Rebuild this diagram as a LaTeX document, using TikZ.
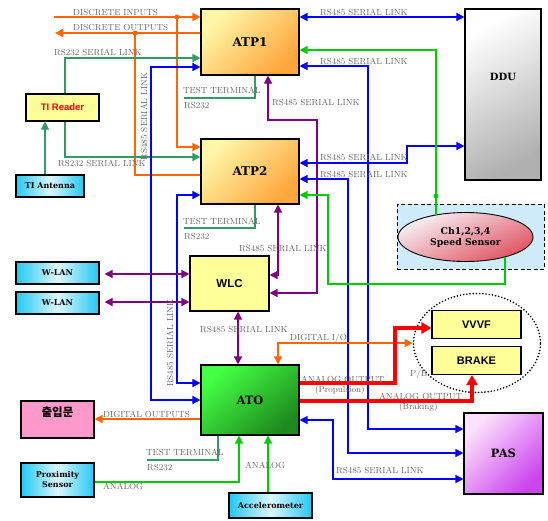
\documentclass[tikz,border=0pt]{standalone}
\usepackage{fontspec}
\newfontfamily\arialfont{Liberation Sans}
\newfontfamily\heavyfont{DejaVu Serif}
\newfontfamily\krfont{Noto Sans CJK KR}
\usetikzlibrary{arrows.meta,shapes.geometric,calc}
\definecolor{orng}{HTML}{FF6600}
\definecolor{blu}{HTML}{0000FF}
\definecolor{purp}{HTML}{800080}
\definecolor{grn}{HTML}{00CC00}
\definecolor{sgrn}{HTML}{339966}
\definecolor{rd}{HTML}{FF0000}
\definecolor{lblgray}{HTML}{666666}
\definecolor{atpA}{HTML}{FFF6A8}
\definecolor{atpB}{HTML}{FFA63C}
\definecolor{ddA}{HTML}{FFFFFF}
\definecolor{ddB}{HTML}{B0B0B0}
\definecolor{atoA}{HTML}{44FF44}
\definecolor{atoM}{HTML}{30DD30}
\definecolor{atoB}{HTML}{1E8A1E}
\definecolor{pasA}{HTML}{FCE2FC}
\definecolor{pasB}{HTML}{CC44EE}
\definecolor{cyA}{HTML}{22C8F2}
\definecolor{cyB}{HTML}{DDF7FF}
\definecolor{ssA}{HTML}{F8F2F6}
\definecolor{ssB}{HTML}{E05262}
\definecolor{sky}{HTML}{D0EBFA}
\definecolor{yel}{HTML}{FFFF99}
\definecolor{pnk}{HTML}{FF99CC}
\begin{document}
\begin{tikzpicture}[x=1pt,y=-1pt,
  >={Triangle[length=8pt,width=8pt]},
  box/.style={draw=black,line width=1.1pt,inner sep=0pt,rectangle},
  atp/.style={box,minimum width=98pt,top color=atpA,bottom color=atpB,shading angle=45,font=\heavyfont\bfseries\fontsize{12}{13}\selectfont},
  cyanbox/.style={box,left color=cyA,right color=cyA,middle color=cyB,font=\heavyfont\bfseries\fontsize{8}{10}\selectfont,align=center},
  yelbox/.style={box,fill=yel,font=\arialfont\bfseries\fontsize{11}{12}\selectfont},
  lbl/.style={font=\fontsize{8.8}{10}\selectfont,text=lblgray,inner sep=0pt,anchor=west},
  ln/.style={line width=1.3pt},
  redln/.style={line width=3.2pt,rd,-{Triangle[length=10pt,width=11pt]}},
  dot/.style={circle,inner sep=0pt,minimum size=5pt}
]
\useasboundingbox (0,0) rectangle (548,520);

% ---------- nodes ----------
\node[atp,minimum height=66pt] (ATP1) at (250,42) {ATP1};
\node[atp,minimum height=65pt] (ATP2) at (250,171.5) {ATP2};
\node[box,minimum width=76pt,minimum height=171pt,top color=ddA,bottom color=ddB,shading angle=30] (DDU) at (503,94.5) {};
\node[font=\heavyfont\bfseries\fontsize{10}{12}\selectfont] (DDUt) at (503,77) {DDU};
\node[box,fill=yel,minimum width=73pt,minimum height=27pt,text=rd,font=\arialfont\bfseries\fontsize{9.5}{11}\selectfont] (TIR) at (62.5,107.5) {TI Reader};
\node[cyanbox,minimum width=68pt,minimum height=22pt] (TIA) at (50,186) {TI Antenna};
\node[draw,line width=1pt,dash pattern=on 4pt off 2.5pt,fill=sky,minimum width=147pt,minimum height=65pt,inner sep=0pt] (SSB) at (470.5,236.5) {};
\node[ellipse,draw=black,line width=0.9pt,minimum width=135pt,minimum height=49pt,inner sep=0pt,top color=ssA,bottom color=ssB,shading angle=25,align=center,font=\heavyfont\bfseries\fontsize{9.3}{11}\selectfont] (SSE) at (465.5,237) {Ch1,2,3,4\\Speed Sensor};
\node[cyanbox,minimum width=83pt,minimum height=22pt] (WL1) at (57.5,273) {W-LAN};
\node[cyanbox,minimum width=83pt,minimum height=22pt] (WL2) at (57.5,303) {W-LAN};
\node[yelbox,minimum width=79pt,minimum height=55pt,font=\arialfont\bfseries\fontsize{11.5}{13}\selectfont] (WLC) at (229.5,283.5) {WLC};
\node[box,minimum width=98pt,minimum height=70pt,top color=atoA,middle color=atoM,bottom color=atoB,shading angle=40,font=\heavyfont\bfseries\fontsize{11.5}{13}\selectfont] (ATO) at (250,400) {ATO};
\node[box,fill=pnk,minimum width=73pt,minimum height=37pt] (DM) at (57.5,419.5) {};
\node[font=\krfont\bfseries\fontsize{11.5}{13}\selectfont] (DMt) at (57.5,412) {출입문};
\node[cyanbox,minimum width=73pt,minimum height=34pt] (PS) at (57.5,480) {Proximity\\Sensor};
\node[cyanbox,minimum width=83pt,minimum height=25pt] (ACC) at (270.5,505.5) {Accelerometer};
\node[ellipse,draw=black,line width=1.8pt,dash pattern=on 0pt off 3.2pt,line cap=round,minimum width=127pt,minimum height=99pt,inner sep=0pt] (PB) at (477,343) {};
\node[yelbox,minimum width=89pt,minimum height=28pt] (VVVF) at (476.5,324.5) {VVVF};
\node[yelbox,minimum width=89pt,minimum height=28pt] (BRAKE) at (476.5,360.5) {BRAKE};
\node[box,minimum width=79pt,minimum height=81pt,top color=pasA,bottom color=pasB,shading angle=45,font=\heavyfont\bfseries\fontsize{11.5}{13}\selectfont] (PAS) at (503.5,453.5) {PAS};

% ---------- coordinates ----------
\coordinate (diL) at (54,17);
\coordinate (doL) at (55,33);
\coordinate (oj1) at (177,17);
\coordinate (oj2) at (135,33);
\coordinate (gj) at (436,196);

% ---------- orange discrete ----------
\draw[orng,ln,->] (diL) -- (ATP1.west |- diL);
\draw[orng,ln,->] (oj1) |- (ATP2.west |- 0,147);
\draw[orng,ln,->] (ATP1.west |- doL) -- (doL);
\draw[orng,ln] (oj2) |- (ATP2.west |- 0,175);
\node[dot,fill=orng] (od1) at (oj1) {};
\node[dot,fill=orng] (od2) at (oj2) {};

% ---------- RS232 TI reader ----------
\draw[sgrn,ln,->] ([xshift=2.5pt]TIR.north) |- (ATP1.west |- 0,58);
\draw[sgrn,ln,->] ([xshift=2.5pt]TIR.south) |- (ATP2.west |- 0,157);
\draw[sgrn,ln,->] (TIA.north -| 45,0) -- (TIR.south -| 45,0);

% ---------- test terminals ----------
\draw[sgrn,line width=1.1pt] (ATP1.south -| 255,0) |- (184,98);
\draw[sgrn,line width=1.1pt] (ATP2.south -| 255,0) |- (184,228);
\draw[sgrn,line width=1.1pt] (ATO.south -| 218,0) |- (147,460);

% ---------- blue RS485 left ----------
\draw[blu,ln,<->] (ATP1.west |- 0,67) -| (151,200) |- (ATO.west |- 0,400);
\draw[blu,ln,<->] (ATP2.west |- 0,195) -| (177,300) |- (ATO.west |- 0,383);

% ---------- purple ----------
\draw[purp,ln,<->] (ATP1.south -| 268,0) |- (317,120) |- (WLC.east |- 0,293);
\draw[purp,ln,<->] (ATP2.south -| 278,0) |- (WLC.east |- 0,275);
\draw[purp,ln,<->] ([xshift=5pt]WL1.east |- 0,274) -- (WLC.west |- 0,274);
\draw[purp,ln,<->] ([xshift=5pt]WL2.east |- 0,302) -- (WLC.west |- 0,302);
\draw[purp,ln,<->] (WLC.south -| 238,0) -- (ATO.north -| 238,0);

% ---------- blue RS485 right ----------
\draw[blu,ln,<->] (ATP1.east |- 0,17) -- (DDU.west |- 0,17);
\draw[blu,ln,<->] (ATP1.east |- 0,66) -| (368,200) |- (PAS.west |- 0,429);
\draw[blu,ln,<->] (ATP2.east |- 0,163) -| (407,150) |- (DDU.west |- 0,146);
\draw[blu,ln,<->] (ATP2.east |- 0,179) -| (348,300) |- (PAS.west |- 0,453);
\draw[blu,ln,<->] (ATO.east |- 0,420) -| (333,450) |- (PAS.west |- 0,479);

% ---------- green speed sensor ----------
\draw[grn,ln,->] (SSE.143 -| gj) -- (gj) |- (ATP1.east |- 0,50);
\draw[grn,ln,->] (SSE.333 -| 505,0) |- (328,284) |- (ATP2.east |- 0,195);
\node[dot,fill=grn] (gd) at (gj) {};

% ---------- digital I/O ----------
\draw[orng,ln,<->] (ATO.north -| 278,0) |- (PB.west);
\draw[orng,ln,->] (ATO.west |- 0,419) -- (DM.east |- 0,419);

% ---------- red analog outputs ----------
\draw[redln] (ATO.east |- 0,383) -| (395,350) |- (VVVF.west |- 0,328);
\draw[redln] (ATO.east |- 0,401) -| (BRAKE.south -| 472,0);

% ---------- green analog ----------
\draw[grn,ln,->] (PS.east |- 0,482) -| (ATO.south -| 239,0);
\draw[grn,ln,->] (ACC.north -| 268,0) -- (ATO.south -| 268,0);

% ---------- labels ----------
\node[lbl] (l1) at (73,12) {DISCRETE INPUTS};
\node[lbl] (l2) at (73,27) {DISCRETE OUTPUTS};
\node[lbl] (l3) at (54,52.5) {RS232 SERIAL LINK};
\node[lbl] (l4) at (58,163) {RS232 SERIAL LINK};
\node[lbl,anchor=center,rotate=90] (l5) at (144,116.5) {RS485 SERIAL LINK};
\node[lbl] (l6) at (183,90) {TEST TERMINAL};
\node[lbl] (l7) at (184,105) {RS232};
\node[lbl] (l8) at (320,12) {RS485 SERIAL LINK};
\node[lbl] (l9) at (320,61) {RS485 SERIAL LINK};
\node[lbl] (l10) at (272,102.7) {RS485 SERIAL LINK};
\node[lbl] (l11) at (320,157) {RS485 SERIAL LINK};
\node[lbl] (l12) at (320,174) {RS485 SERAIL LINK};
\node[lbl] (l13) at (183,221.5) {TEST TERMINAL};
\node[lbl] (l14) at (184,236) {RS232};
\node[lbl] (l15) at (239,248) {RS485 SERIAL LINK};
\node[lbl,anchor=center,rotate=90] (l16) at (170,343) {RS485 SERIAL LINK};
\node[lbl] (l17) at (200,329) {RS485 SERIAL LINK};
\node[lbl] (l18) at (290,338) {DIGITAL I/O};
\node[lbl] (l19) at (301,379.5) {ANALOG OUTPUT};
\node[lbl] (l20) at (315,390) {(Propulsion)};
\node[lbl] (l21) at (410,374) {P/B};
\node[lbl] (l22) at (379,396.7) {ANALOG OUTPUT};
\node[lbl] (l23) at (399,407.5) {(Braking)};
\node[lbl] (l24) at (103,414) {DIGITAL OUTPUTS};
\node[lbl] (l25) at (146,452.7) {TEST TERMINAL};
\node[lbl] (l26) at (147,467.7) {RS232};
\node[lbl] (l27) at (245,465) {ANALOG};
\node[lbl] (l28) at (336,470) {RS485 SERIAL LINK};
\node[lbl] (l29) at (103,486) {ANALOG};
\end{tikzpicture}
\end{document}
